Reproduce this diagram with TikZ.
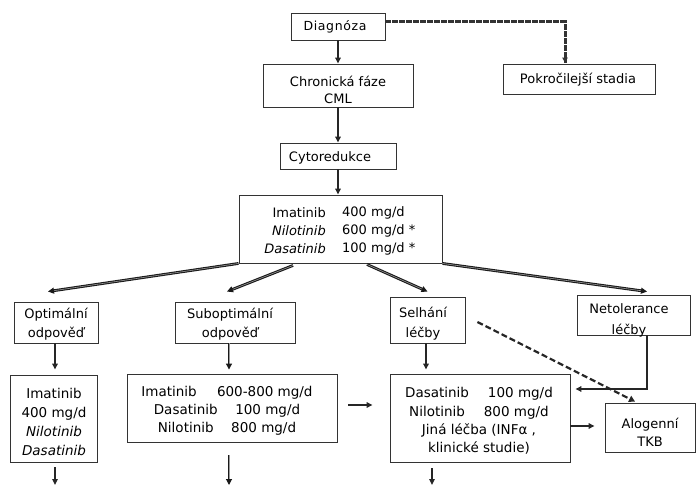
\documentclass[tikz,border=0pt]{standalone}
\usepackage{fontspec}
\setmainfont{DejaVu Sans}
\newfontfamily\spacedfont[LetterSpace=5]{DejaVu Sans}
\usetikzlibrary{arrows.meta}
\begin{document}
\begin{tikzpicture}[x=1pt,y=-1pt,
  box/.style={draw=black!80, line width=0.9pt, rectangle, inner sep=0pt},
  txt/.style={inner sep=0pt, align=center, font=\fontsize{13}{#1}\selectfont},
  txt/.default=19,
  arr/.style={draw=black!85, line width=1.7pt, -{Triangle[length=6pt,width=5.5pt]}},
  dbl/.style={draw=black!90, line width=1.1pt, double=black!40, double distance=0.6pt, -{Triangle[length=6pt,width=6pt]}},
  dshA/.style={draw=black!80, line width=3pt, dash pattern=on 6pt off 1pt},
  dshB/.style={draw=black!85, line width=2.2pt, dash pattern=on 6pt off 3pt, -{Triangle[length=6pt,width=6.5pt]}}
]
\useasboundingbox (0,0) rectangle (696,486);

% boxes
\node[box, minimum width=94pt,  minimum height=27pt] (diag)  at (338,26.5) {};
\node[box, minimum width=150pt, minimum height=43pt] (chron) at (338,85.5) {};
\node[box, minimum width=152pt, minimum height=30pt] (pokr)  at (579,79) {};
\node[box, minimum width=116pt, minimum height=26pt] (cyto)  at (338,156) {};
\node[box, minimum width=203pt, minimum height=68pt] (imat)  at (340.5,229) {};
\node[box, minimum width=84pt,  minimum height=41pt] (opt)   at (56,322.5) {};
\node[box, minimum width=120pt, minimum height=41pt] (sub)   at (235,322.5) {};
\node[box, minimum width=75pt,  minimum height=46pt] (sel)   at (427.5,320) {};
\node[box, minimum width=113pt, minimum height=40pt] (netol) at (633.5,315) {};
\node[box, minimum width=87pt,  minimum height=87pt] (imfour) at (53.5,418.5) {};
\node[box, minimum width=210pt, minimum height=68pt] (subtwo) at (232,408) {};
\node[box, minimum width=180pt, minimum height=88pt] (das)   at (480,418) {};
\node[box, minimum width=90pt,  minimum height=49pt] (alo)   at (650,427.5) {};

% texts
\node[inner sep=0pt, font=\spacedfont\fontsize{12.5}{15}\selectfont] (tdiag) at (335,27) {Diagnóza};
\node[txt=17] (tchron) at (338,89.5) {Chronická fáze\\CML};
\node[txt] (tpokr) at (578,80) {Pokročilejší stadia};
\node[txt] (tcyto) at (330,158) {Cytoredukce};
\node[txt=18, align=right, anchor=east] (timA) at (326,231) {Imatinib\\\textit{Nilotinib}\\\textit{Dasatinib}};
\node[txt=18, align=left, anchor=west] (timB) at (342,231) {400 mg/d\\600 mg/d *\\100 mg/d *};
\node[txt] (topt) at (56,324) {Optimální\\odpověď};
\node[txt] (tsub) at (230,324) {Suboptimální\\odpověď};
\node[txt=20] (tsel) at (423,324) {Selhání\\léčby};
\node[txt=21] (tnetol) at (629,320.5) {Netolerance\\léčby};
\node[txt=19.3, font=\fontsize{13.5}{19.3}\selectfont] (timfour) at (54,422) {Imatinib\\400 mg/d\\\textit{Nilotinib}\\\textit{Dasatinib}};
\node[txt=18, font=\fontsize{13.5}{18}\selectfont] (tsubtwo) at (227,411) {Imatinib\hspace{1.5em}600-800 mg/d\\Dasatinib\hspace{1.3em}100 mg/d\\Nilotinib\hspace{1.3em}800 mg/d};
\node[txt=18.3, font=\fontsize{13.5}{18.3}\selectfont] (tdas) at (479,421) {Dasatinib\hspace{1.4em}100 mg/d\\Nilotinib\hspace{1.4em}800 mg/d\\Jiná léčba (INFα ,\\klinické studie)};
\node[txt=18] (talo) at (650,432) {Alogenní\\TKB};

% free ends at the bottom
\coordinate (endA) at (55,485);
\coordinate (endB) at (229,485);
\coordinate (endC) at (432,485);

% connectors
\draw[arr] (diag.south) -- (chron.north);
\draw[arr] (chron.south) -- (cyto.north);
\draw[arr] (cyto.south) -- (cyto.south |- imat.north);
\draw[dshA] ([yshift=4.5pt]diag.east) -| ([shift={(-14,-1)}]pokr.north);
\draw[draw=black!80, line width=1pt, -{Triangle[length=5pt,width=5.5pt]}] ([shift={(-14,-8)}]pokr.north) -- ([shift={(-14,-1)}]pokr.north);

\draw[dbl] (imat.south west) -- ([shift={(-8,-10)}]opt.north);
\draw[dbl] ([shift={(-47.5,2)}]imat.south) -- ([shift={(-8,-10)}]sub.north);
\draw[dbl] ([shift={(26.5,1)}]imat.south) -- ([shift={(0,-5)}]sel.north);
\draw[dbl] (imat.south east) -- ([shift={(13.5,-3)}]netol.north);

\draw[arr] ([xshift=-1pt]opt.south) -- ([shift={(-1,-5)}]opt.south |- imfour.north);
\draw[dbl] ([xshift=-6pt]sub.south) -- ([shift={(-6,-4)}]sub.south |- subtwo.north);
\draw[arr] ([xshift=-1.5pt]sel.south) -- ([shift={(-1.5,-4)}]sel.south |- das.north);
\draw[arr] ([xshift=13.5pt]netol.south) |- ([shift={(5,-29)}]das.east);
\draw[dshB] ([shift={(12,2)}]sel.east) -- ([shift={(-15,-1)}]alo.north);
\draw[arr] ([shift={(11,-3)}]subtwo.east) -- ([shift={(-17,-13)}]das.west);
\draw[arr] ([shift={(0,8)}]das.east) -- ([shift={(-10,-1.5)}]alo.west);

\draw[arr] ([shift={(1.5,5)}]imfour.south) -- (endA);
\draw[dbl] ([shift={(-3,13)}]subtwo.south) -- (endB);
\draw[arr] ([shift={(-48,6)}]das.south) -- (endC);
\end{tikzpicture}
\end{document}
